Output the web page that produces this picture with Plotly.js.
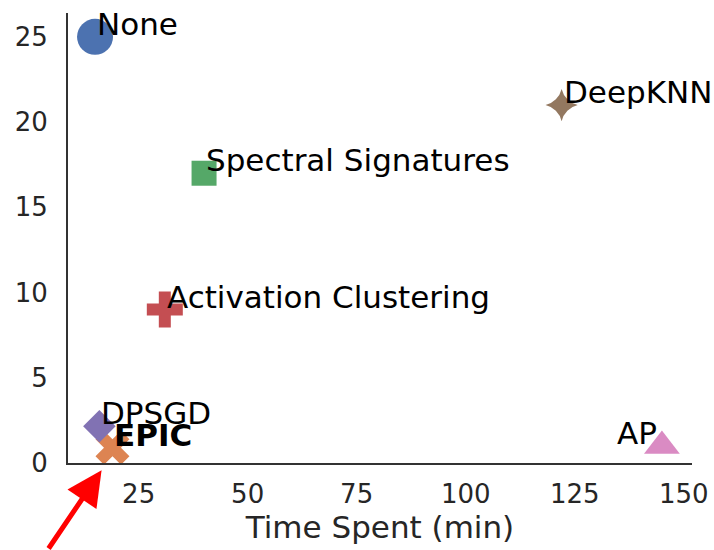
<!DOCTYPE html>
<html>
<head>
<meta charset="utf-8">
<script src="https://cdn.plot.ly/plotly-3.0.1.min.js"></script>
<style>html,body{margin:0;padding:0;background:#fff;}#chart{width:714px;height:550px;}</style>
</head>
<body>
<div id="chart"></div>
<script>
// Data
const methods = ["None", "EPIC", "Spectral Signatures", "Activation Clustering", "DPSGD", "DeepKNN", "AP"];
const timeSpent = [15, 19, 40, 31, 16, 122, 145];
const asr = [25, 0.9, 17, 9, 2.15, 21, 1];
const xTicks = [25, 50, 75, 100, 125, 150];
const yTicks = [0, 5, 10, 15, 20, 25];

// styling
const colors = ["#4C72B0", "#DD8452", "#55A868", "#C44E52", "#8172B3", "#937860", "#DA8BC3"];
const symbols = ["circle", "x", "square", "cross", "diamond", "star-diamond", "triangle-up"];
const sizes = [36, 30, 25, 30, 25, 23, 31];
const labelAlign = ["left", "left", "left", "left", "left", "left", "right"];
const labelBold = [false, true, false, false, false, false, false];

const traces = methods.map((m, i) => ({
  type: "scatter",
  mode: "markers",
  x: [timeSpent[i]],
  y: [asr[i]],
  name: m,
  cliponaxis: false,
  marker: { color: colors[i], symbol: symbols[i], size: sizes[i], line: { width: 0 } },
  hoverinfo: "skip"
}));

const FONT = "DejaVu Sans, sans-serif";
const annotations = methods.map((m, i) => ({
  x: timeSpent[i],
  y: asr[i],
  xref: "x",
  yref: "y",
  text: labelBold[i] ? "<b>" + m + "</b>" : m,
  showarrow: false,
  xanchor: labelAlign[i],
  yanchor: "bottom",
  xshift: labelAlign[i] === "left" ? 0 : -3,
  yshift: -7,
  font: { family: FONT, size: 31, color: "#000000" }
}));

annotations.push({
  x: 16.5,
  y: -0.016,
  xref: "x",
  yref: "paper",
  text: "",
  showarrow: true,
  arrowhead: 2,
  arrowsize: 1.4,
  arrowwidth: 5,
  arrowcolor: "#FF0000",
  ax: -54,
  ay: 90,
  standoff: 0
});

const layout = {
  width: 714,
  height: 550,
  margin: { l: 68, r: 22, t: 13, b: 87 },
  paper_bgcolor: "#ffffff",
  plot_bgcolor: "#ffffff",
  showlegend: false,
  font: { family: FONT, color: "#262626" },
  xaxis: {
    range: [8.8, 151.9],
    tickvals: xTicks,
    ticktext: xTicks.map(String),
    showgrid: false,
    zeroline: false,
    showline: true,
    linecolor: "#333333",
    linewidth: 2,
    ticks: "",
    ticklabelstandoff: 7,
    tickfont: { family: FONT, size: 26, color: "#262626" },
    title: { text: "Time Spent (min)", font: { family: FONT, size: 31, color: "#262626" }, standoff: 8 }
  },
  yaxis: {
    range: [0, 26.4],
    tickvals: yTicks,
    ticktext: yTicks.map(String),
    showgrid: false,
    zeroline: false,
    showline: true,
    linecolor: "#333333",
    linewidth: 2,
    ticks: "",
    ticklabelstandoff: 13,
    tickfont: { family: FONT, size: 26, color: "#262626" }
  },
  annotations: annotations
};

Plotly.newPlot("chart", traces, layout, { displayModeBar: false, staticPlot: true });
</script>
</body>
</html>
